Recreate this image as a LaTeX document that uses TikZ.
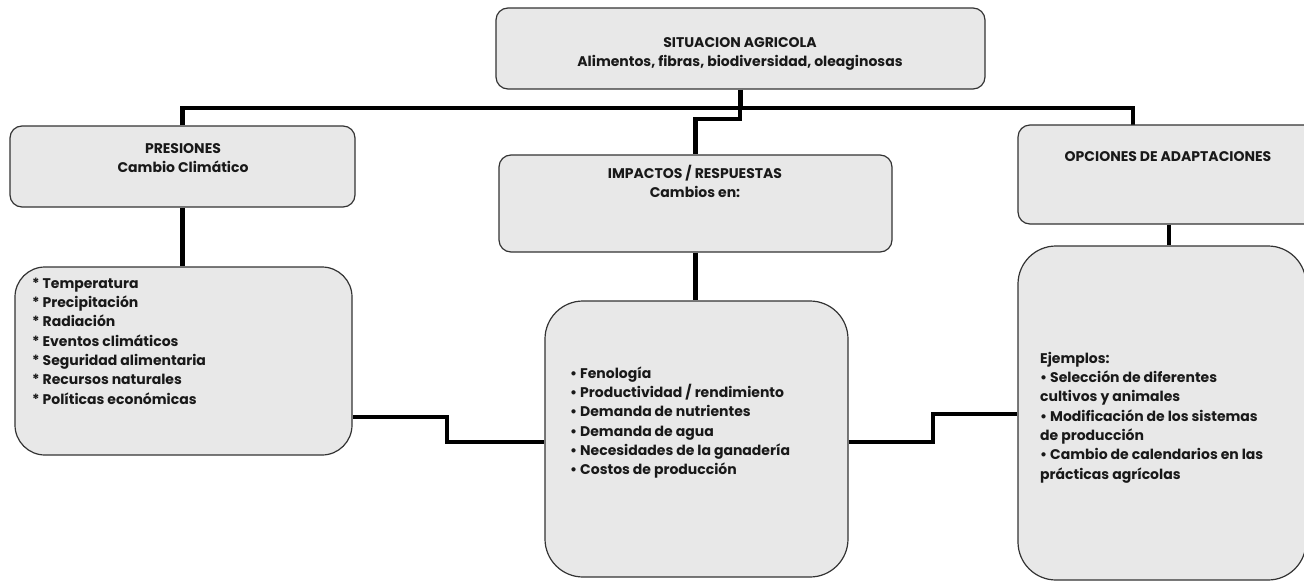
\documentclass[tikz,border=0pt]{standalone}
\usepackage{fontspec}
\setmainfont{Poppins}
\usetikzlibrary{backgrounds}
\definecolor{boxfill}{HTML}{E8E8E8}
\tikzset{
  box/.style={draw=black!80, line width=1.2pt, fill=boxfill, rounded corners=12pt, inner sep=0pt},
  bigbox/.style={box, rounded corners=38pt},
  conn/.style={line width=4.5pt, draw=black, line join=miter},
  txt/.style={inner sep=0pt, font=\bfseries\fontsize{14}{19.3}\selectfont, text=black!90},
}
\begin{document}
\begin{tikzpicture}[x=1pt,y=-1pt]
\useasboundingbox (0,0) rectangle (1304,581);
% boxes
\node[box, minimum width=489pt, minimum height=81pt] (top) at (740.5,48.5) {};
\node[box, minimum width=345pt, minimum height=81pt] (pres) at (182.5,166.5) {};
\node[bigbox, rounded corners=30pt, minimum width=337pt, minimum height=188pt] (presl) at (183.5,361) {};
\node[box, minimum width=393pt, minimum height=97pt] (imp) at (695.5,203.5) {};
\node[bigbox, minimum width=303pt, minimum height=276pt] (impl) at (696.5,439) {};
\node[box, minimum width=302pt, minimum height=99pt] (opc) at (1169,174.5) {};
\node[bigbox, minimum width=288pt, minimum height=334pt] (opcl) at (1162,413) {};
% texts
\node[txt, anchor=north, align=center] (topt) at (740,33.5)
  {\strut SITUACION AGRICOLA\\Alimentos, fibras, biodiversidad, oleaginosas};
\node[txt, anchor=north, align=center] (prest) at (183,139.5)
  {\strut PRESIONES\\Cambio Climático};
\node[txt, anchor=north, align=center] (impt) at (695,164.5)
  {\strut IMPACTOS / RESPUESTAS\\Cambios en:};
\node[txt, anchor=north, align=center] (opct) at (1168,147.5)
  {\strut OPCIONES DE ADAPTACIONES};
\node[txt, anchor=north west, align=left] (preslt) at (32,274.5)
  {\strut * Temperatura\\* Precipitación\\* Radiación\\* Eventos climáticos\\* Seguridad alimentaria\\* Recursos naturales\\* Políticas económicas};
\node[txt, anchor=north west, align=left] (implt) at (570,364.5)
  {\strut • Fenología\\• Productividad / rendimiento\\• Demanda de nutrientes\\• Demanda de agua\\• Necesidades de la ganadería\\• Costos de producción};
\node[txt, anchor=north west, align=left] (opclt) at (1040,349.5)
  {\strut Ejemplos:\\• Selección de diferentes\\cultivos y animales\\• Modificación de los sistemas\\de producción\\• Cambio de calendarios en las\\prácticas agrícolas};
% connectors
\coordinate (hub) at (740,108);
\coordinate (rdrop) at (1133,125);
\coordinate (l1) at (447,417);
\coordinate (l2) at (447,442);
\coordinate (r1) at (933,442);
\coordinate (r2) at (933,414);
\begin{pgfonlayer}{background}
\draw[conn] (top.south) -- (top.south |- hub);
\draw[conn] (pres.north) -- (pres.north |- hub) -- (rdrop |- hub) -- (rdrop);
\draw[conn] (hub) -- ++(0,11) -| (imp.north);
\draw[conn] (pres.south) -- (pres.south |- presl.north);
\draw[conn] (imp.south) -- (imp.south |- impl.north);
\draw[conn] (opc.south) -- (opc.south |- opcl.north);
\draw[conn] (presl.east |- l1) -- (l1) -- (l2) -- (impl.west |- l2);
\draw[conn] (impl.east |- r1) -- (r1) -- (r2) -- (opcl.west |- r2);
\end{pgfonlayer}
\end{tikzpicture}
\end{document}
